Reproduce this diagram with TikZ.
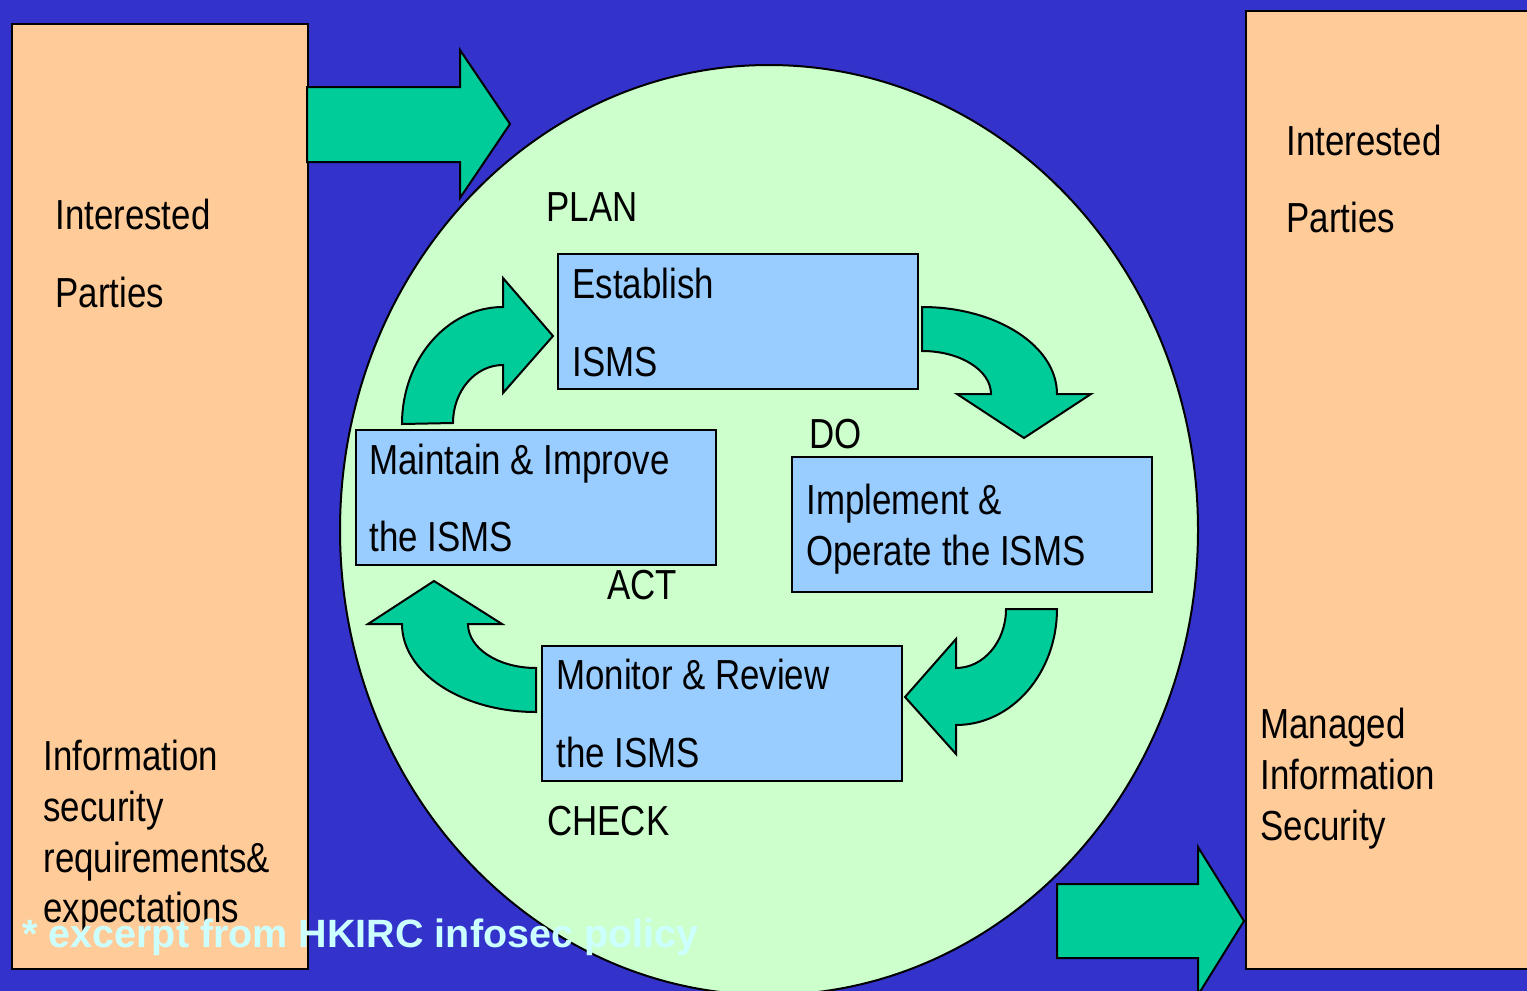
\documentclass[tikz,border=0pt]{standalone}
\usepackage{fontspec}
\setmainfont[FakeStretch=0.83]{Liberation Sans}
\newfontfamily\footfont{Liberation Sans}
\definecolor{bgblue}{HTML}{3333CC}
\definecolor{orangec}{HTML}{FFCC99}
\definecolor{cyclegreen}{HTML}{CCFFCC}
\definecolor{arrowgreen}{HTML}{00CC99}
\definecolor{boxblue}{HTML}{99CCFF}
\definecolor{footc}{HTML}{CCFFFF}
\begin{document}
\begin{tikzpicture}[x=0.5pt,y=-0.5pt,
  lbl/.style={inner sep=0pt, anchor=base west, font=\fontsize{21}{25}\selectfont},
  orangebox/.style={draw=black, line width=1pt, fill=orangec, inner sep=0pt, anchor=north west},
  bluebox/.style={draw=black, line width=1pt, fill=boxblue, inner sep=0pt, anchor=north west, minimum width=180pt, minimum height=67.5pt},
  blockarrow/.style={draw=black, line width=1pt, fill=arrowgreen, line join=miter}]
\clip (0,0) rectangle (1527,991);
\fill[bgblue] (0,0) rectangle (1527,991);
% side boxes
\node[orangebox, minimum width=148pt, minimum height=472.5pt] (leftbox) at (11,23) {};
\node[orangebox, minimum width=160pt, minimum height=479pt] (rightbox) at (1245,10) {};
% cycle ellipse
\fill[cyclegreen, draw=black, line width=1pt] (769,530) ellipse [x radius=429, y radius=465];
\coordinate (cyc) at (769,530);
% straight arrows
\draw[blockarrow] (307,87) -- (460,87) -- (460,50) -- (510,124) -- (460,198) -- (460,162) -- (307,162) -- cycle;
\draw[blockarrow] (1057,884) -- (1198,884) -- (1198,847) -- (1244,921) -- (1198,995) -- (1198,958) -- (1057,958) -- cycle;
% curved arrows
\draw[blockarrow] (402,424) arc[start angle=180, end angle=270, x radius=101, y radius=117]
  -- (503,278) -- (553,336) -- (503,393) -- (503,365)
  arc[start angle=270, end angle=180, x radius=50, y radius=58] -- cycle;
\draw[blockarrow] (922,307) arc[start angle=270, end angle=360, x radius=135, y radius=87]
  -- (1091,394) -- (1024,438) -- (957,394) -- (991,394)
  arc[start angle=0, end angle=-90, x radius=69, y radius=43] -- cycle;
\draw[blockarrow] (1006,609) -- (1057,609) arc[start angle=0, end angle=90, x radius=101, y radius=116]
  -- (956,754) -- (905,697) -- (956,639) -- (956,668)
  arc[start angle=90, end angle=0, x radius=50, y radius=59] -- cycle;
\draw[blockarrow] (536,712) arc[start angle=90, end angle=180, x radius=134, y radius=88]
  -- (368,624) -- (434,581) -- (502,624) -- (468,624)
  arc[start angle=180, end angle=90, x radius=68, y radius=44] -- cycle;
% process boxes
\node[bluebox] (establish) at (557,253) {};
\node[bluebox] (maintain) at (355,429) {};
\node[bluebox] (implement) at (791,456) {};
\node[bluebox] (monitor) at (541,645) {};
% labels
\node[lbl] (plan) at (546,221) {PLAN};
\node[lbl] (est1) at (572,298) {Establish};
\node[lbl] (est2) at (572,376) {ISMS};
\node[lbl] (do) at (809,448) {DO};
\node[lbl] (mai1) at (369,474) {Maintain \& Improve};
\node[lbl] (mai2) at (369,551) {the ISMS};
\node[lbl] (imp1) at (806,514) {Implement \&};
\node[lbl] (imp2) at (806,565) {Operate the ISMS};
\node[lbl] (act) at (607,599) {ACT};
\node[lbl] (mon1) at (556,689) {Monitor \& Review};
\node[lbl] (mon2) at (556,767) {the ISMS};
\node[lbl] (check) at (547,835) {CHECK};
\node[lbl] (lint) at (55,229) {Interested};
\node[lbl] (lpar) at (55,307) {Parties};
\node[lbl] (lreq1) at (43,770) {Information};
\node[lbl] (lreq2) at (43,821) {security};
\node[lbl] (lreq3) at (43,872) {requirements\&};
\node[lbl] (lreq4) at (43,922) {expectations};
\node[lbl] (rint) at (1286,155) {Interested};
\node[lbl] (rpar) at (1286,232) {Parties};
\node[lbl] (rman1) at (1260,738) {Managed};
\node[lbl] (rman2) at (1260,789) {Information};
\node[lbl] (rman3) at (1260,840) {Security};
% footer
\node[inner sep=0pt, anchor=base west, text=footc, font=\footfont\bfseries\fontsize{19.75}{22}\selectfont] (foot) at (22,947) {* excerpt from HKIRC infosec policy};
\end{tikzpicture}
\end{document}
